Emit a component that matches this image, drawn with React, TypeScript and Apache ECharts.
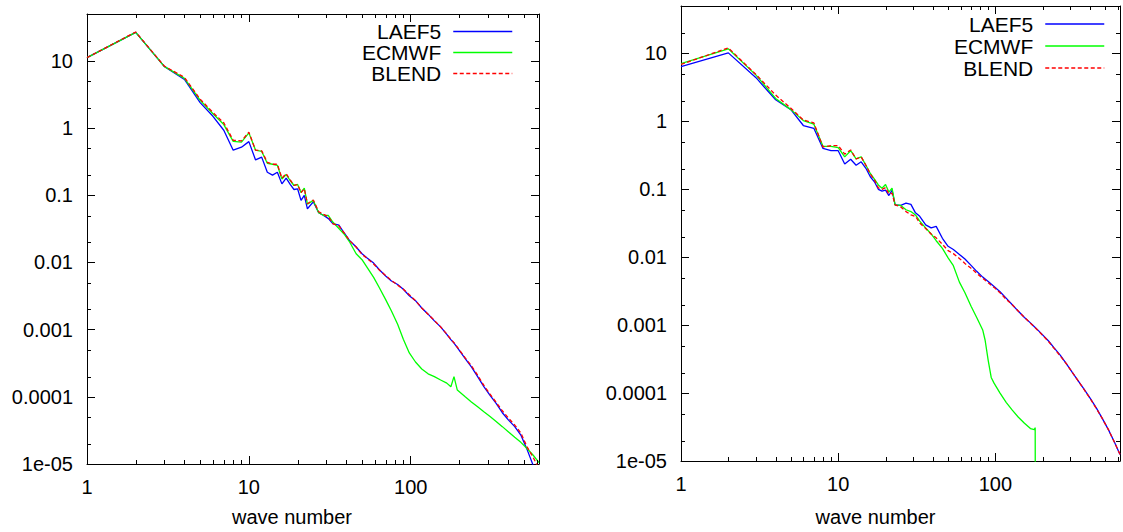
import React, { useEffect, useRef } from "react";
import * as echarts from "echarts";

// ---------- data ----------
const waveNumbers = [
  1, 2, 3, 4, 5, 6, 7, 8, 9, 10, 11, 12, 13, 14, 15, 16, 17, 18, 19, 20, 21, 22, 23,
  25, 27, 29, 31, 33, 36, 39, 42, 46, 50,
  54, 59, 64, 70, 76, 83, 90, 98, 107, 117,
  128, 140, 153, 167, 177, 185, 194, 217, 237, 259,
  283, 309, 337, 368, 402, 439, 479, 523, 571, 620,
];

const leftLaef5 = [
  11.2, 26.7, 8.3, 5.3, 2.4, 1.5, 0.93, 0.47, 0.52, 0.63, 0.336, 0.37, 0.22, 0.2, 0.22, 0.148, 0.18, 0.145, 0.122, 0.125, 0.084, 0.1, 0.063,
  0.08, 0.055, 0.05, 0.045, 0.038, 0.036, 0.027, 0.021, 0.017, 0.0135,
  0.0116, 0.0098, 0.0078, 0.0063, 0.0053, 0.0047, 0.004, 0.0032, 0.0027, 0.0021,
  0.0017, 0.00135, 0.0011, 0.00085, 0.00071, 0.00063, 0.00054, 0.00037, 0.00028, 0.0002,
  0.000142, 0.000105, 8e-5, 5.8e-5, 4.5e-5, 3.6e-5, 2.7e-5, 1.65e-5, 9.5e-6, 6e-6,
];
const leftEcmwf = [
  11.2, 26.7, 8.3, 5.5, 2.6, 1.64, 1.13, 0.635, 0.62, 0.85, 0.47, 0.45, 0.3, 0.29, 0.28, 0.175, 0.204, 0.166, 0.14, 0.145, 0.11, 0.128, 0.074,
  0.084, 0.055, 0.05, 0.05, 0.04, 0.032, 0.026, 0.02, 0.0135, 0.011,
  0.0083, 0.006, 0.0042, 0.0028, 0.0019, 0.0012, 0.00072, 0.00045, 0.00033, 0.00026,
  0.00022, 0.0002, 0.000178, 0.00016, 0.000141, 0.0002, 0.000126, 0.0001, 8.4e-5, 7.1e-5,
  6.0e-5, 5.1e-5, 4.3e-5, 3.6e-5, 3.0e-5, 2.5e-5, 2.1e-5, 1.7e-5, 1.35e-5, 1.05e-5,
];
const leftBlend = [
  11.2, 27, 8.4, 5.7, 2.7, 1.71, 1.2, 0.66, 0.645, 0.87, 0.47, 0.46, 0.31, 0.29, 0.29, 0.18, 0.21, 0.17, 0.14, 0.145, 0.11, 0.125, 0.075,
  0.085, 0.057, 0.052, 0.048, 0.038, 0.035, 0.027, 0.021, 0.017, 0.0132,
  0.0114, 0.0095, 0.0077, 0.0064, 0.0054, 0.0046, 0.004, 0.0033, 0.0027, 0.0021,
  0.0017, 0.00137, 0.0011, 0.00086, 0.00072, 0.00064, 0.00055, 0.00038, 0.00029, 0.00021,
  0.000148, 0.00011, 8.3e-5, 6.2e-5, 4.8e-5, 3.8e-5, 2.9e-5, 1.8e-5, 1.25e-5, 8.5e-6,
];

const rightLaef5 = [
  6.4, 10.2, 4.4, 2.08, 1.49, 0.87, 0.79, 0.4, 0.37, 0.37, 0.236, 0.277, 0.226, 0.254, 0.204, 0.153, 0.129, 0.1, 0.094, 0.097, 0.081, 0.097, 0.059,
  0.058, 0.0625, 0.06, 0.045, 0.04, 0.03, 0.027, 0.0285, 0.019, 0.0145,
  0.013, 0.011, 0.0094, 0.0076, 0.0062, 0.0051, 0.0044, 0.0037, 0.0031, 0.0025,
  0.002, 0.0016, 0.0013, 0.00108, 0.00095, 0.00086, 0.00077, 0.00059, 0.00046, 0.00036,
  0.00027, 0.0002, 0.00015, 0.000112, 8.3e-5, 6.0e-5, 4.2e-5, 2.9e-5, 1.9e-5, 1.25e-5,
];
const rightBlend = [
  6.9, 12.1, 4.9, 2.44, 1.56, 1.05, 0.95, 0.42, 0.44, 0.44, 0.33, 0.38, 0.28, 0.3, 0.226, 0.168, 0.138, 0.105, 0.1, 0.106, 0.085, 0.088, 0.059,
  0.055, 0.047, 0.042, 0.04, 0.032, 0.0265, 0.022, 0.0193, 0.0155, 0.0125,
  0.0113, 0.0096, 0.0081, 0.0069, 0.0058, 0.0049, 0.0042, 0.0036, 0.003, 0.0024,
  0.002, 0.0016, 0.0013, 0.00107, 0.00094, 0.00085, 0.00076, 0.00058, 0.00045, 0.00035,
  0.00027, 0.0002, 0.00015, 0.000111, 8.2e-5, 5.9e-5, 4.2e-5, 2.9e-5, 1.9e-5, 1.25e-5,
];
const rightEcmwfWaveNumbers = [
  1, 2, 3, 4, 5, 6, 7, 8, 9, 10, 11, 12, 13, 14, 15, 16, 17, 18, 19, 20, 21, 22, 23,
  25, 27, 29, 31, 33, 36, 39, 42, 46, 50,
  54, 59, 64, 70, 76, 83, 86, 90, 94, 98, 107, 117,
  128, 140, 153, 167, 177, 179, 180,
];
const rightEcmwf = [
  7.1, 11.7, 4.8, 2.18, 1.49, 1.03, 0.91, 0.43, 0.43, 0.41, 0.3, 0.37, 0.28, 0.3, 0.226, 0.171, 0.141, 0.116, 0.104, 0.118, 0.091, 0.104, 0.059,
  0.058, 0.05, 0.047, 0.042, 0.034, 0.027, 0.022, 0.0175, 0.0135, 0.0098,
  0.0075, 0.0043, 0.003, 0.0019, 0.0013, 0.00085, 0.0006, 0.0003, 0.00017, 0.00014, 0.0001, 7.3e-5,
  5.6e-5, 4.4e-5, 3.6e-5, 3.0e-5, 2.9e-5, 3.1e-5, 1e-7,
];

const seriesNames = ["LAEF5", "ECMWF", "BLEND"];
const xTickValues = [1, 10, 100];
const xTickLabels = ["1", "10", "100"];
const yTickValues = [1e-5, 1e-4, 1e-3, 1e-2, 0.1, 1, 10];
const yTickLabels = ["1e-05", "0.0001", "0.001", "0.01", "0.1", "1", "10"];
const xMinorTicks = [2, 3, 4, 5, 6, 7, 8, 9, 20, 30, 40, 50, 60, 70, 80, 90, 200, 300, 400, 500, 600];
const yMinorTicks = [2e-5, 5e-5, 2e-4, 5e-4, 2e-3, 5e-3, 0.02, 0.05, 0.2, 0.5, 2, 5, 20];

const X_MIN = 1;
const X_MAX = 620;
const Y_MIN = 1e-5;
const Y_MAX = 50;

// ---------- styling ----------
const FONT = "'Liberation Sans', Arial, Helvetica, sans-serif";
const COLORS = ["#0000ff", "#00ff00", "#ff0000"];

const pair = (xs: number[], ys: number[]) => xs.map((x, i) => [x, ys[i]]);

const makeFmt = (values: number[], labels: string[]) => (v: number) => {
  const lv = Math.log10(v);
  for (let i = 0; i < values.length; i++) {
    if (Math.abs(Math.log10(values[i]) - lv) < 1e-6) return labels[i];
  }
  return "";
};
const fmtX = makeFmt(xTickValues, xTickLabels);
const fmtY = makeFmt(yTickValues, yTickLabels);

const axisLine = { show: true, onZero: false, lineStyle: { color: "#000", width: 1 } };
const axisTick = { show: true, inside: true, length: 8, lineStyle: { color: "#000", width: 1 } };

function xAxes(gridIndex: number, nameShift: number, nameGap: number) {
  return [
    {
      type: "log",
      logBase: 10,
      gridIndex,
      position: "bottom",
      min: X_MIN,
      max: X_MAX,
      interval: 1,
      axisLine,
      axisTick,
      splitLine: { show: false },
      axisLabel: { show: true, margin: 13, color: "#000", fontSize: 20, fontFamily: FONT, formatter: fmtX },
      name: "wave number",
      nameLocation: "middle",
      nameGap,
      nameTextStyle: { color: "#000", fontSize: 20, fontFamily: FONT, padding: [0, nameShift * 2, 0, 0] },
    },
    {
      type: "log",
      logBase: 10,
      gridIndex,
      position: "top",
      min: X_MIN,
      max: X_MAX,
      interval: 1,
      axisLine,
      axisTick,
      splitLine: { show: false },
      axisLabel: { show: false },
    },
  ];
}

function yAxes(gridIndex: number) {
  return [
    {
      type: "log",
      logBase: 10,
      gridIndex,
      position: "left",
      min: Y_MIN,
      max: Y_MAX,
      interval: 1,
      axisLine,
      axisTick,
      splitLine: { show: false },
      axisLabel: { show: true, margin: 14, color: "#000", fontSize: 20, fontFamily: FONT, formatter: fmtY },
    },
    {
      type: "log",
      logBase: 10,
      gridIndex,
      position: "right",
      min: Y_MIN,
      max: Y_MAX,
      interval: 1,
      axisLine,
      axisTick,
      splitLine: { show: false },
      axisLabel: { show: false },
    },
  ];
}

const minorTickData = [
  ...xMinorTicks.map((x) => [x, Y_MIN, 0]),
  ...yMinorTicks.map((y) => [X_MIN, y, 1]),
];

function minorTickSeries(axisIndex: number) {
  return {
    type: "custom",
    xAxisIndex: axisIndex,
    yAxisIndex: axisIndex,
    silent: true,
    clip: false,
    z: 5,
    data: minorTickData,
    renderItem: (params: any, api: any) => {
      const cs = params.coordSys;
      const kind = api.value(2);
      const p = api.coord([api.value(0), api.value(1)]);
      const style = { stroke: "#000", lineWidth: 1 };
      if (kind === 0) {
        const x = Math.round(p[0]) + 0.5;
        const yb = cs.y + cs.height;
        return {
          type: "group",
          children: [
            { type: "line", shape: { x1: x, y1: yb, x2: x, y2: yb - 4 }, style },
            { type: "line", shape: { x1: x, y1: cs.y, x2: x, y2: cs.y + 4 }, style },
          ],
        };
      }
      const y = Math.round(p[1]) + 0.5;
      const xr = cs.x + cs.width;
      return {
        type: "group",
        children: [
          { type: "line", shape: { x1: cs.x, y1: y, x2: cs.x + 4, y2: y }, style },
          { type: "line", shape: { x1: xr, y1: y, x2: xr - 4, y2: y }, style },
        ],
      };
    },
  };
}

function lineSeries(name: string, data: number[][], axisIndex: number, colorIdx: number, dashed: boolean) {
  return {
    type: "line",
    name,
    xAxisIndex: axisIndex,
    yAxisIndex: axisIndex,
    data,
    symbol: "none",
    showSymbol: false,
    smooth: false,
    lineStyle: { color: COLORS[colorIdx], width: 1.3, type: dashed ? [4, 2.5] : "solid" },
    itemStyle: { color: COLORS[colorIdx] },
    z: 2 + colorIdx,
  };
}

function legend(right: number, top: number, lineHeight: number) {
  return {
    orient: "vertical",
    align: "right",
    right,
    top,
    padding: 0,
    itemWidth: 59,
    itemHeight: 14,
    itemGap: 0,
    data: seriesNames,
    selectedMode: false,
    itemStyle: { opacity: 0, color: "rgba(0,0,0,0)", borderWidth: 0 },
    lineStyle: { width: 1.5 },
    textStyle: { color: "#000", fontSize: 21, fontFamily: FONT, lineHeight, padding: [0, 7, 0, 0] },
  };
}

const option = {
  animation: false,
  backgroundColor: "#ffffff",
  grid: [
    { left: 87, top: 14, width: 452, height: 454 },
    { left: 681, top: 6, width: 450, height: 459 },
  ],
  xAxis: [...xAxes(0, 21, 43), ...xAxes(1, 25, 46)],
  yAxis: [...yAxes(0), ...yAxes(1)],
  legend: [legend(610, 21, 21), legend(18, 13, 22)],
  series: [
    lineSeries(seriesNames[0], pair(waveNumbers, leftLaef5), 0, 0, false),
    lineSeries(seriesNames[1], pair(waveNumbers, leftEcmwf), 0, 1, false),
    lineSeries(seriesNames[2], pair(waveNumbers, leftBlend), 0, 2, true),
    lineSeries(seriesNames[0], pair(waveNumbers, rightLaef5), 2, 0, false),
    lineSeries(seriesNames[1], pair(rightEcmwfWaveNumbers, rightEcmwf), 2, 1, false),
    lineSeries(seriesNames[2], pair(waveNumbers, rightBlend), 2, 2, true),
    minorTickSeries(0),
    minorTickSeries(2),
  ],
};

export default function App() {
  const ref = useRef<HTMLDivElement>(null);
  useEffect(() => {
    if (!ref.current) return;
    const chart = echarts.init(ref.current, null, { renderer: "svg" });
    chart.setOption(option as any);
    return () => chart.dispose();
  }, []);
  return (
    <div
      ref={ref}
      style={{ position: "fixed", left: 0, top: 0, width: 1123, height: 532, background: "#fff" }}
    />
  );
}
